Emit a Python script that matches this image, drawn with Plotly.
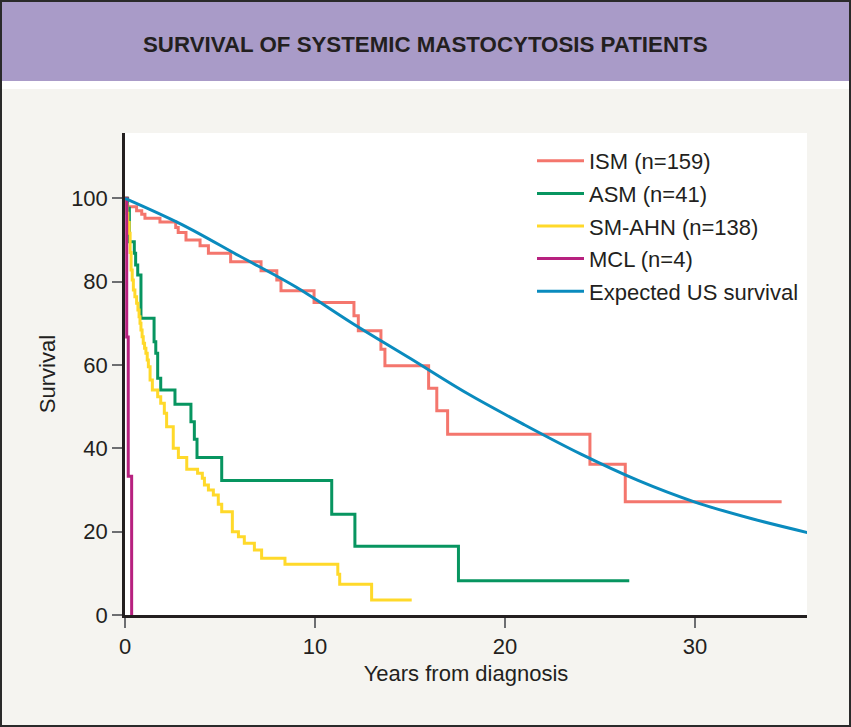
import plotly.graph_objects as go

# Kaplan-Meier steps (years, survival %)
ism_years = [0, 0.14, 0.61, 0.88, 1.05, 1.84, 2.67, 2.8, 3.21, 3.95, 4.39, 5.56, 7.16,
             7.99, 8.21, 9.95, 12.05, 12.28, 13.47, 13.68, 15.98, 16.41, 16.98,
             24.47, 26.33, 34.56]
ism_surv = [100, 98.0, 97.0, 96.2, 95.2, 94.3, 93.0, 91.8, 90.0, 88.6, 86.8, 84.8, 82.6,
            80.4, 77.8, 75.0, 71.8, 68.2, 63.8, 59.8, 54.4, 49.0, 43.4,
            36.2, 27.2, 27.2]

asm_years = [0, 0.12, 0.23, 0.49, 0.56, 0.67, 0.84, 1.53, 1.62, 1.72, 1.88, 2.63,
             3.47, 3.65, 3.79, 5.09, 10.88, 12.1, 17.55, 26.54]
asm_surv = [100, 97.6, 89.6, 86.8, 84.0, 81.6, 71.2, 65.6, 62.8, 56.8, 54.0, 50.6,
            46.4, 42.2, 37.8, 32.3, 24.2, 16.5, 8.2, 8.2]

ahn_years = [0, 0.05, 0.1, 0.15, 0.22, 0.27, 0.32, 0.38, 0.44, 0.52, 0.61, 0.68, 0.74,
             0.79, 0.84, 0.9, 0.96, 1.03, 1.1, 1.17, 1.23, 1.32, 1.44, 1.72, 1.88,
             2.07, 2.19, 2.54, 2.81, 3.25, 3.82, 4.07, 4.18, 4.39, 4.65, 4.91, 5.09,
             5.65, 5.97, 6.28, 6.81, 7.19, 8.42, 11.2, 11.3, 12.98, 15.09]
ahn_surv = [100, 98.6, 96.4, 94.2, 91.6, 87.0, 82.8, 80.4, 78.0, 76.4, 74.8, 73.2, 71.6,
            70.0, 68.4, 66.8, 65.2, 64.0, 62.8, 61.2, 59.6, 56.4, 54.0, 52.4, 50.8,
            48.4, 45.2, 40.0, 37.8, 35.0, 34.0, 32.8, 31.2, 30.0, 28.8, 26.6, 24.8,
            20.0, 18.8, 17.2, 15.6, 13.6, 12.2, 9.8, 7.4, 3.6, 3.6]

mcl_years = [0, 0.09, 0.17, 0.35]
mcl_surv = [100, 66.7, 33.3, 0]

us_years = [0, 3, 6, 9, 12, 15, 18, 21, 24, 27, 30, 33, 36]
us_surv = [100, 93.7, 86.2, 78.7, 69.9, 61.6, 53.2, 45.7, 38.6, 32.3, 27.1, 23.1, 19.7]

FONT = "Liberation Sans, Arial, Helvetica, sans-serif"
INK = "#231F20"

fig = go.Figure()

curves = [
    ("ISM (n=159)", ism_years, ism_surv, "#F4766D"),
    ("ASM (n=41)", asm_years, asm_surv, "#079560"),
    ("SM-AHN (n=138)", ahn_years, ahn_surv, "#FFD92A"),
    ("MCL (n=4)", mcl_years, mcl_surv, "#B7217F"),
]
for name, xs, ys, col in curves:
    fig.add_trace(go.Scatter(x=xs, y=ys, name=name, mode="lines",
                             line=dict(color=col, width=3, shape="hv"),
                             legendgroup=name))

fig.add_trace(go.Scatter(x=us_years, y=us_surv, name="Expected US survival",
                         mode="lines", line=dict(color="#0A8BBE", width=3, shape="spline"),
                         legendgroup="us"))

W, H = 851, 727
L, R, T, B = 125, 44, 133, 112
pw, ph = W - L - R, H - T - B


def px_x(p):
    return (p - L) / pw


def px_y(p):
    return (H - B - p) / ph


shapes = [
    # purple header band
    dict(type="rect", xref="paper", yref="paper", x0=px_x(0), x1=px_x(W),
         y0=px_y(81), y1=px_y(0), fillcolor="#A99BC8", line=dict(width=0), layer="below"),
    # white strip under header
    dict(type="rect", xref="paper", yref="paper", x0=px_x(0), x1=px_x(W),
         y0=px_y(89), y1=px_y(81), fillcolor="#FFFFFF", line=dict(width=0), layer="below"),
    # outer frame
    dict(type="rect", xref="paper", yref="paper", x0=px_x(1), x1=px_x(W - 1),
         y0=px_y(H - 1), y1=px_y(1), line=dict(color="#2A2A2A", width=2)),
]

fig.update_layout(
    width=W, height=H,
    margin=dict(l=L, r=R, t=T, b=B, autoexpand=False),
    paper_bgcolor="#F5F4F0",
    plot_bgcolor="#FFFFFF",
    font=dict(family=FONT, color=INK, size=22),
    shapes=shapes,
    annotations=[dict(text="<b>SURVIVAL OF SYSTEMIC MASTOCYTOSIS PATIENTS</b>",
                      xref="paper", yref="paper", x=px_x(425.5), y=px_y(44),
                      xanchor="center", yanchor="middle", showarrow=False,
                      font=dict(family=FONT, size=22.3, color=INK))],
    legend=dict(x=px_x(532), y=px_y(140), xanchor="left", yanchor="top",
                bgcolor="rgba(0,0,0,0)", font=dict(size=22, color=INK),
                itemwidth=47, tracegroupgap=1),
    showlegend=True,
)

fig.update_xaxes(range=[0, pw / 19.0], tickvals=[0, 10, 20, 30],
                 showgrid=False, zeroline=False,
                 showline=True, linecolor=INK, linewidth=2.5,
                 ticks="outside", ticklen=10, tickwidth=1.5, tickcolor="#6D6E71",
                 tickfont=dict(size=22),
                 title=dict(text="Years from diagnosis", font=dict(size=22), standoff=8))
fig.update_yaxes(range=[0, ph / 4.167], tickvals=[0, 20, 40, 60, 80, 100],
                 showgrid=False, zeroline=False,
                 showline=True, linecolor=INK, linewidth=2.5,
                 ticks="outside", ticklen=10, tickwidth=1.5, tickcolor="#6D6E71",
                 tickfont=dict(size=22),
                 title=dict(text="Survival", font=dict(size=22), standoff=10))

fig.write_html("out.html", config={"displayModeBar": False},
               post_script="document.body.style.margin='0';")
